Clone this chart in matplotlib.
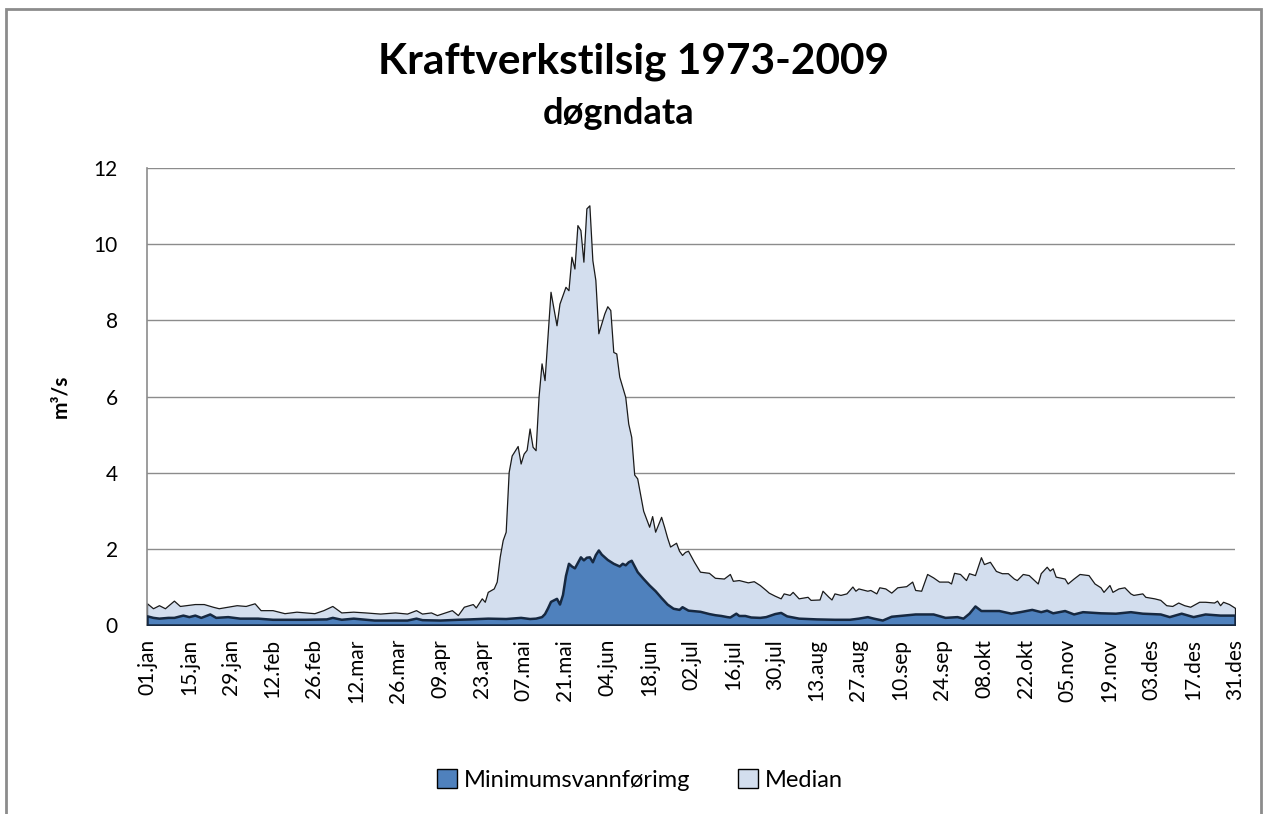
import matplotlib
matplotlib.use("Agg")
import matplotlib.pyplot as plt
from matplotlib.patches import Rectangle, Patch

plt.rcParams['font.family'] = ['Lato', 'DejaVu Sans']

# ---- data (day of year index, m3/s) ----
tick_labels = ["01.jan", "15.jan", "29.jan", "12.feb", "26.feb", "12.mar", "26.mar",
               "09.apr", "23.apr", "07.mai", "21.mai", "04.jun", "18.jun", "02.jul",
               "16.jul", "30.jul", "13.aug", "27.aug", "10.sep", "24.sep", "08.okt",
               "22.okt", "05.nov", "19.nov", "03.des", "17.des", "31.des"]
tick_days = [0, 14, 28, 42, 56, 70, 84, 98, 112, 126, 140, 154, 168, 182, 196, 210,
             224, 238, 252, 266, 280, 294, 308, 322, 336, 350, 364]

median_days = [0, 2, 4, 6, 9, 11, 13, 16, 19, 22, 24, 27, 30, 33, 36, 38, 42, 46, 50, 56,
               59, 62, 65, 69, 73, 78, 83, 87, 90, 92, 95, 97, 102, 104, 106, 109, 110, 112,
               113, 114, 116, 117, 118, 119, 120, 121, 122, 124, 125, 126, 127, 128, 129, 130,
               131, 132, 133, 135, 137, 138, 140, 141, 142, 143, 144, 145, 146, 147, 148, 149,
               150, 151, 153, 154, 155, 156, 157, 158, 160, 161, 162, 163, 164, 166, 168, 169,
               170, 172, 173, 174, 175, 177, 178, 179, 180, 181, 183, 185, 188, 190, 193, 195,
               196, 198, 201, 203, 205, 207, 208, 210, 212, 213, 215, 216, 218, 221, 222, 225,
               226, 228, 229, 230, 232, 234, 236, 237, 238, 241, 242, 244, 245, 247, 249, 251,
               254, 256, 257, 259, 261, 263, 265, 268, 269, 270, 272, 274, 275, 277, 279, 280,
               282, 284, 286, 288, 290, 291, 293, 295, 298, 299, 301, 302, 303, 304, 307, 308,
               310, 312, 315, 317, 319, 320, 322, 323, 325, 327, 329, 330, 333, 334, 337, 339,
               341, 343, 345, 347, 349, 352, 354, 357, 358, 359, 360, 362, 364]
median_vals = [0.57, 0.44, 0.52, 0.44, 0.64, 0.50, 0.52, 0.55, 0.55, 0.48, 0.44, 0.48, 0.52,
               0.50, 0.57, 0.39, 0.39, 0.31, 0.35, 0.31, 0.39, 0.50, 0.33, 0.35, 0.33, 0.30,
               0.33, 0.30, 0.39, 0.30, 0.33, 0.26, 0.39, 0.26, 0.48, 0.55, 0.46, 0.70, 0.61,
               0.87, 0.96, 1.14, 1.79, 2.23, 2.45, 4.02, 4.45, 4.70, 4.24, 4.50, 4.60, 5.16,
               4.68, 4.59, 6.00, 6.87, 6.43, 8.75, 7.87, 8.44, 8.88, 8.79, 9.67, 9.36, 10.50,
               10.37, 9.54, 10.94, 11.02, 9.58, 9.06, 7.66, 8.18, 8.37, 8.27, 7.17, 7.13, 6.52,
               5.99, 5.29, 4.94, 3.95, 3.85, 3.00, 2.58, 2.86, 2.45, 2.84, 2.58, 2.30, 2.06,
               2.16, 1.95, 1.84, 1.92, 1.95, 1.66, 1.40, 1.37, 1.24, 1.22, 1.34, 1.16, 1.18,
               1.12, 1.15, 1.05, 0.92, 0.85, 0.77, 0.70, 0.83, 0.79, 0.87, 0.70, 0.74, 0.66,
               0.67, 0.90, 0.74, 0.67, 0.83, 0.79, 0.83, 1.01, 0.90, 0.96, 0.90, 0.92, 0.83,
               0.99, 0.96, 0.85, 0.99, 1.02, 1.14, 0.92, 0.90, 1.34, 1.25, 1.14, 1.14, 1.09,
               1.37, 1.34, 1.18, 1.36, 1.31, 1.78, 1.60, 1.66, 1.42, 1.36, 1.36, 1.22, 1.18,
               1.34, 1.31, 1.09, 1.36, 1.53, 1.43, 1.49, 1.27, 1.22, 1.09, 1.22, 1.34, 1.31,
               1.09, 0.99, 0.87, 1.05, 0.87, 0.96, 0.99, 0.83, 0.79, 0.83, 0.74, 0.70, 0.66,
               0.52, 0.50, 0.59, 0.52, 0.48, 0.61, 0.61, 0.59, 0.64, 0.52, 0.61, 0.55, 0.45]

min_days = [0, 2, 4, 7, 9, 12, 14, 16, 18, 21, 23, 27, 31, 37, 42, 53, 60, 62, 65, 69, 76,
            87, 90, 92, 98, 104, 108, 114, 120, 125, 128, 130, 132, 133, 134, 135, 137, 138,
            139, 140, 141, 142, 143, 145, 146, 147, 148, 149, 150, 151, 152, 154, 156, 158,
            159, 160, 161, 162, 163, 164, 166, 168, 170, 172, 174, 176, 178, 179, 181, 185,
            188, 190, 192, 194, 195, 197, 198, 200, 202, 205, 207, 210, 212, 214, 218, 224,
            230, 235, 238, 241, 243, 246, 249, 253, 257, 263, 267, 271, 273, 275, 277, 279,
            285, 289, 292, 296, 299, 301, 303, 307, 310, 313, 319, 324, 329, 333, 339, 342,
            346, 350, 354, 359, 364]
min_vals = [0.24, 0.20, 0.18, 0.20, 0.20, 0.26, 0.22, 0.26, 0.20, 0.29, 0.20, 0.22, 0.18,
            0.18, 0.15, 0.15, 0.16, 0.20, 0.15, 0.18, 0.13, 0.13, 0.18, 0.14, 0.13, 0.15,
            0.16, 0.18, 0.17, 0.20, 0.17, 0.18, 0.22, 0.30, 0.45, 0.62, 0.70, 0.55, 0.80,
            1.30, 1.62, 1.55, 1.50, 1.79, 1.71, 1.78, 1.79, 1.66, 1.85, 1.97, 1.86, 1.72,
            1.62, 1.55, 1.62, 1.58, 1.66, 1.70, 1.55, 1.40, 1.22, 1.05, 0.90, 0.72, 0.55,
            0.44, 0.41, 0.48, 0.39, 0.36, 0.30, 0.27, 0.25, 0.22, 0.21, 0.31, 0.25, 0.25,
            0.21, 0.20, 0.22, 0.30, 0.33, 0.24, 0.18, 0.16, 0.15, 0.15, 0.18, 0.22, 0.18,
            0.13, 0.23, 0.26, 0.29, 0.29, 0.20, 0.22, 0.18, 0.31, 0.50, 0.38, 0.38, 0.31,
            0.35, 0.41, 0.35, 0.39, 0.32, 0.38, 0.29, 0.35, 0.32, 0.31, 0.35, 0.31, 0.29,
            0.22, 0.31, 0.22, 0.29, 0.26, 0.26]

series_names = ["Minimumsvannførimg", "Median"]
y_ticks = [0, 2, 4, 6, 8, 10, 12]

# ---- styling ----
median_fill = "#D3DEEE"
min_fill = "#4F81BD"
edge_dark = "#1A1A1A"
grid_col = "#8C8C8C"

fig = plt.figure(figsize=(12.64, 8.14), dpi=100)
fig.patch.set_facecolor("white")
W, H = 1264, 814
ax = fig.add_axes([147 / W, 1 - 625 / H, (1235 - 147) / W, (625 - 168) / H])

ax.fill_between(median_days, median_vals, 0, facecolor=median_fill,
                edgecolor=edge_dark, linewidth=0.9, zorder=2)
ax.fill_between(min_days, min_vals, 0, facecolor=min_fill,
                edgecolor="#162840", linewidth=1.8, zorder=3)

ax.set_xlim(0, 364)
ax.set_ylim(0, 12)
ax.set_yticks(y_ticks)
ax.set_yticklabels([str(v) for v in y_ticks], fontsize=15)
ax.set_xticks(tick_days)
ax.set_xticklabels(tick_labels, rotation=90, fontsize=15)
ax.tick_params(axis="x", length=0, pad=10, colors="black")
ax.tick_params(axis="y", length=0, pad=21, colors="black")

ax.grid(axis="y", color=grid_col, linewidth=1.0, zorder=1)
ax.set_axisbelow(True)
for s in ["top", "right"]:
    ax.spines[s].set_visible(False)
for s in ["left", "bottom"]:
    ax.spines[s].set_color(grid_col)
    ax.spines[s].set_linewidth(1.2)

ax.set_ylabel("m³/s", fontsize=15, fontweight="bold", labelpad=17)

fig.text(634 / W, 1 - 62 / H, "Kraftverkstilsig 1973-2009", ha="center", va="center",
         fontsize=30.5, fontweight="bold")
fig.text(619 / W, 1 - 113 / H, "døgndata", ha="center", va="center",
         fontsize=26, fontweight="bold")

handles = [Patch(facecolor=min_fill, edgecolor="black", linewidth=1.0),
           Patch(facecolor=median_fill, edgecolor="black", linewidth=1.0)]
fig.legend(handles, series_names, loc="center", bbox_to_anchor=(640 / W, 1 - 780 / H),
           ncol=2, frameon=False, fontsize=17, handlelength=0.85, handleheight=0.85,
           handletextpad=0.3, columnspacing=2.0)

# outer chart border
fig.patches.append(Rectangle((6 / W, -0.05), (1261 - 6) / W, 1.05 - 9 / H,
                             transform=fig.transFigure, fill=False,
                             edgecolor="#8C8C8C", linewidth=2.0))

fig.savefig("out.png", dpi=100)
